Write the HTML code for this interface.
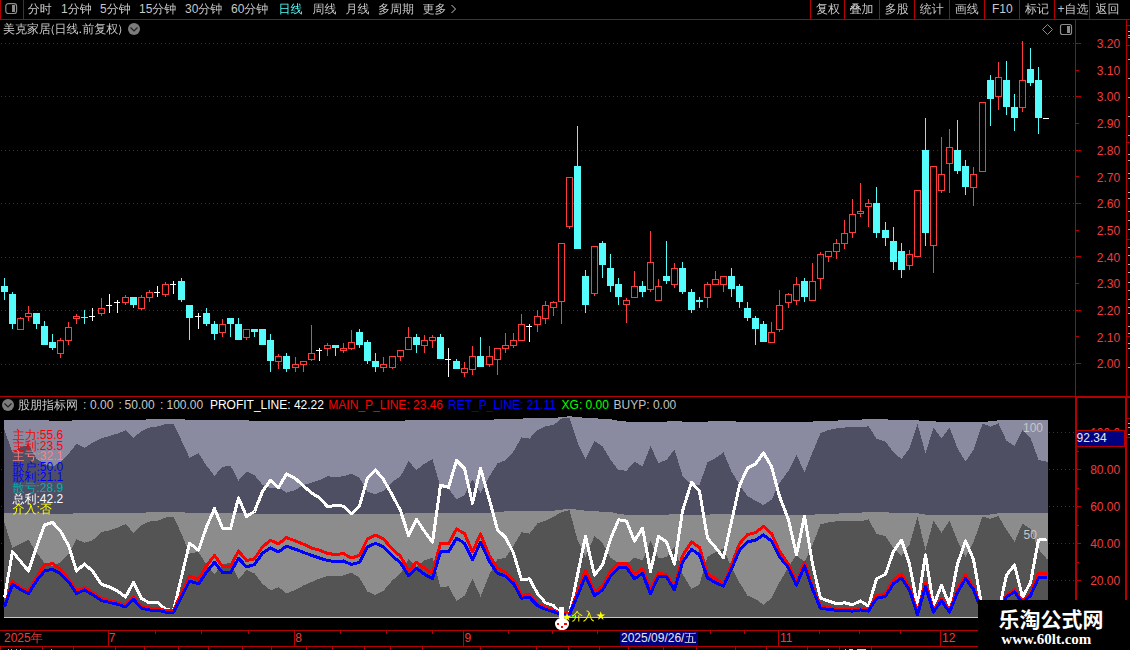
<!DOCTYPE html>
<html><head><meta charset="utf-8"><style>
html,body{margin:0;padding:0;background:#000;}
body{width:1130px;height:650px;overflow:hidden;position:relative;font-family:"Liberation Sans","Noto Sans CJK SC",sans-serif;font-size:12px;color:#C8C8C8;}
.t{position:absolute;white-space:nowrap;line-height:12px;}
</style></head><body>
<svg width="1130" height="650" viewBox="0 0 1130 650" style="position:absolute;left:0;top:0">
<g shape-rendering="crispEdges">
<line x1="1" y1="43.5" x2="1075" y2="43.5" stroke="#B40000" stroke-width="1" stroke-dasharray="1 3"/><line x1="1" y1="96.5" x2="1075" y2="96.5" stroke="#B40000" stroke-width="1" stroke-dasharray="1 3"/><line x1="1" y1="150.5" x2="1075" y2="150.5" stroke="#B40000" stroke-width="1" stroke-dasharray="1 3"/><line x1="1" y1="203.5" x2="1075" y2="203.5" stroke="#B40000" stroke-width="1" stroke-dasharray="1 3"/><line x1="1" y1="257.5" x2="1075" y2="257.5" stroke="#B40000" stroke-width="1" stroke-dasharray="1 3"/><line x1="1" y1="310.5" x2="1075" y2="310.5" stroke="#B40000" stroke-width="1" stroke-dasharray="1 3"/><line x1="1" y1="364.5" x2="1075" y2="364.5" stroke="#B40000" stroke-width="1" stroke-dasharray="1 3"/><line x1="1" y1="432.5" x2="1075" y2="432.5" stroke="#B40000" stroke-width="1" stroke-dasharray="1 3"/><line x1="1" y1="469.5" x2="1075" y2="469.5" stroke="#B40000" stroke-width="1" stroke-dasharray="1 3"/><line x1="1" y1="506.5" x2="1075" y2="506.5" stroke="#B40000" stroke-width="1" stroke-dasharray="1 3"/><line x1="1" y1="543.5" x2="1075" y2="543.5" stroke="#B40000" stroke-width="1" stroke-dasharray="1 3"/><line x1="1" y1="580.5" x2="1075" y2="580.5" stroke="#B40000" stroke-width="1" stroke-dasharray="1 3"/>
<polygon points="4.0,617.0 4.0,420.2 4.5,420.2 12.5,420.2 20.5,420.2 28.5,420.2 36.5,420.2 44.5,420.2 52.5,420.8 60.5,420.8 68.5,420.8 76.5,420.2 84.5,420.2 92.5,420.2 101.5,420.2 109.5,420.2 117.5,420.2 125.5,420.2 133.5,420.2 141.5,420.2 149.5,419.0 157.5,419.0 165.5,419.0 173.5,419.0 181.5,419.0 189.5,420.3 198.5,420.3 206.5,420.3 214.5,420.3 222.5,420.3 230.5,420.3 238.5,420.3 246.5,420.3 254.5,421.0 262.5,421.0 270.5,421.0 278.5,421.0 286.5,421.0 295.5,421.0 303.5,421.0 311.5,421.0 319.5,421.0 327.5,420.6 335.5,420.6 343.5,420.6 351.5,420.6 359.5,420.6 367.5,421.0 375.5,421.0 383.5,421.0 392.5,421.0 400.5,421.0 408.5,420.1 416.5,420.1 424.5,420.1 432.5,420.1 440.5,420.1 448.5,420.1 456.5,420.1 464.5,420.1 472.5,420.1 480.5,420.1 489.5,420.1 497.5,419.1 505.5,418.6 513.5,418.6 521.5,418.6 529.5,418.0 537.5,418.0 545.5,418.0 553.5,418.0 561.5,417.0 569.5,416.3 577.5,417.0 585.5,418.0 594.5,418.0 602.5,419.1 610.5,419.1 618.5,420.8 626.5,421.6 634.5,421.6 642.5,421.6 650.5,421.6 658.5,421.6 666.5,421.6 674.5,420.8 682.5,421.6 691.5,421.6 699.5,421.6 707.5,421.6 715.5,420.8 723.5,420.8 731.5,420.8 739.5,422.0 747.5,422.0 755.5,422.0 763.5,422.0 771.5,422.0 779.5,421.6 788.5,421.6 796.5,421.6 804.5,421.6 812.5,421.6 820.5,420.8 828.5,420.8 836.5,420.8 844.5,419.6 852.5,419.6 860.5,419.6 868.5,419.1 876.5,419.1 885.5,419.1 893.5,420.3 901.5,420.3 909.5,420.3 917.5,420.3 925.5,421.3 933.5,421.3 941.5,422.0 949.5,422.0 957.5,422.0 965.5,422.0 973.5,422.0 982.5,422.0 990.5,421.3 998.5,420.3 1006.5,420.3 1014.5,420.3 1022.5,420.3 1030.5,420.3 1038.5,420.3 1046.5,420.3 1048.0,420.3 1048.0,617.0" fill="#8A8AA0"/><polygon points="4.0,560.0 4.0,430.4 4.5,430.4 12.5,452.5 20.5,447.0 28.5,445.0 36.5,458.6 44.5,464.0 52.5,466.7 60.5,462.0 68.5,453.8 76.5,444.0 84.5,448.0 92.5,442.8 101.5,438.4 109.5,436.0 117.5,433.6 125.5,430.4 133.5,437.6 141.5,431.2 149.5,427.6 157.5,426.5 165.5,424.2 173.5,424.2 181.5,440.5 189.5,457.7 198.5,453.2 206.5,465.7 214.5,475.8 222.5,466.8 230.5,465.7 238.5,480.6 246.5,471.5 254.5,475.2 262.5,484.8 270.5,488.3 278.5,487.5 286.5,492.7 295.5,489.9 303.5,485.0 311.5,482.7 319.5,480.0 327.5,476.3 335.5,477.1 343.5,476.3 351.5,473.6 359.5,477.9 367.5,491.5 375.5,494.3 383.5,490.7 392.5,481.9 400.5,476.3 408.5,461.2 416.5,470.0 424.5,463.6 432.5,459.3 440.5,487.5 448.5,488.6 456.5,499.4 464.5,495.4 472.5,479.5 480.5,493.0 489.5,476.3 497.5,463.5 505.5,460.2 513.5,451.5 521.5,437.4 529.5,438.6 537.5,430.0 545.5,426.1 553.5,425.0 561.5,418.6 569.5,417.5 577.5,442.4 585.5,459.5 594.5,441.2 602.5,446.2 610.5,459.9 618.5,470.2 626.5,470.7 634.5,461.5 642.5,466.5 650.5,446.2 658.5,462.9 666.5,459.9 674.5,449.6 682.5,475.6 691.5,484.8 699.5,484.8 707.5,462.4 715.5,458.2 723.5,452.4 731.5,471.5 739.5,484.8 747.5,496.4 755.5,500.6 763.5,505.1 771.5,499.7 779.5,483.1 788.5,470.7 796.5,454.9 804.5,472.3 812.5,452.4 820.5,433.3 828.5,430.0 836.5,428.3 844.5,427.5 852.5,427.0 860.5,427.5 868.5,426.3 876.5,438.6 885.5,441.6 893.5,452.4 901.5,459.0 909.5,448.2 917.5,424.1 925.5,453.5 933.5,427.5 941.5,438.3 949.5,427.5 957.5,448.2 965.5,461.5 973.5,449.9 982.5,423.6 990.5,426.6 998.5,423.3 1006.5,440.7 1014.5,446.0 1022.5,430.0 1030.5,437.7 1038.5,460.0 1046.5,461.6 1048.0,461.6 1048.0,560.0" fill="#4F4F64"/><polygon points="4.0,617.0 4.0,513.2 4.5,513.2 12.5,513.2 20.5,513.2 28.5,513.2 36.5,513.2 44.5,513.2 52.5,513.9 60.5,513.9 68.5,513.9 76.5,513.2 84.5,513.2 92.5,513.2 101.5,513.2 109.5,513.2 117.5,513.2 125.5,513.2 133.5,513.2 141.5,513.2 149.5,511.9 157.5,511.9 165.5,511.9 173.5,511.9 181.5,511.9 189.5,513.3 198.5,513.3 206.5,513.3 214.5,513.3 222.5,513.3 230.5,513.3 238.5,513.3 246.5,513.3 254.5,514.1 262.5,514.1 270.5,514.1 278.5,514.1 286.5,514.1 295.5,514.1 303.5,514.1 311.5,514.1 319.5,514.1 327.5,513.7 335.5,513.7 343.5,513.7 351.5,513.7 359.5,513.7 367.5,514.1 375.5,514.1 383.5,514.1 392.5,514.1 400.5,514.1 408.5,513.1 416.5,513.1 424.5,513.1 432.5,513.1 440.5,513.1 448.5,513.1 456.5,513.1 464.5,513.1 472.5,513.1 480.5,513.1 489.5,513.1 497.5,512.0 505.5,511.4 513.5,511.4 521.5,511.4 529.5,510.8 537.5,510.8 545.5,510.8 553.5,510.8 561.5,509.6 569.5,508.9 577.5,509.6 585.5,510.8 594.5,510.8 602.5,512.0 610.5,512.0 618.5,513.9 626.5,514.8 634.5,514.8 642.5,514.8 650.5,514.8 658.5,514.8 666.5,514.8 674.5,513.9 682.5,514.8 691.5,514.8 699.5,514.8 707.5,514.8 715.5,513.9 723.5,513.9 731.5,513.9 739.5,515.2 747.5,515.2 755.5,515.2 763.5,515.2 771.5,515.2 779.5,514.8 788.5,514.8 796.5,514.8 804.5,514.8 812.5,514.8 820.5,513.9 828.5,513.9 836.5,513.9 844.5,512.6 852.5,512.6 860.5,512.6 868.5,512.0 876.5,512.0 885.5,512.0 893.5,513.3 901.5,513.3 909.5,513.3 917.5,513.3 925.5,514.5 933.5,514.5 941.5,515.2 949.5,515.2 957.5,515.2 965.5,515.2 973.5,515.2 982.5,515.2 990.5,514.5 998.5,513.3 1006.5,513.3 1014.5,513.3 1022.5,513.3 1030.5,513.3 1038.5,513.3 1046.5,513.3 1048.0,513.3 1048.0,617.0" fill="#8C8C8C"/><polygon points="4.0,617.0 4.0,523.3 4.5,523.3 12.5,548.0 20.5,543.6 28.5,539.7 36.5,552.5 44.5,563.0 52.5,566.3 60.5,562.2 68.5,554.2 76.5,539.2 84.5,542.7 92.5,540.4 101.5,532.1 109.5,530.4 117.5,527.7 125.5,524.2 133.5,532.7 141.5,525.0 149.5,521.5 157.5,520.9 165.5,517.5 173.5,516.6 181.5,533.8 189.5,553.6 198.5,551.9 206.5,564.8 214.5,574.3 222.5,564.0 230.5,563.1 238.5,579.5 246.5,570.0 254.5,573.4 262.5,583.8 270.5,590.3 278.5,587.2 286.5,593.3 295.5,589.8 303.5,585.5 311.5,582.0 319.5,578.6 327.5,576.0 335.5,576.0 343.5,575.5 351.5,572.6 359.5,577.8 367.5,591.5 375.5,595.0 383.5,590.7 392.5,580.3 400.5,573.4 408.5,559.3 416.5,566.6 424.5,560.5 432.5,557.6 440.5,587.2 448.5,586.4 456.5,601.0 464.5,595.8 472.5,579.0 480.5,596.7 489.5,574.3 497.5,559.5 505.5,557.6 513.5,545.6 521.5,532.3 529.5,533.6 537.5,523.5 545.5,520.7 553.5,517.0 561.5,512.0 569.5,510.2 577.5,540.1 585.5,556.7 594.5,536.0 602.5,542.8 610.5,557.6 618.5,563.2 626.5,564.0 634.5,557.6 642.5,560.4 650.5,541.0 658.5,558.5 666.5,557.0 674.5,546.5 682.5,574.2 691.5,589.0 699.5,584.4 707.5,556.7 715.5,552.1 723.5,548.4 731.5,567.8 739.5,582.5 747.5,595.5 755.5,599.1 763.5,604.7 771.5,598.2 779.5,582.5 788.5,566.8 796.5,554.8 804.5,562.2 812.5,544.7 820.5,524.4 828.5,522.5 836.5,521.2 844.5,520.7 852.5,520.7 860.5,521.2 868.5,519.4 876.5,533.6 885.5,536.4 893.5,548.4 901.5,555.8 909.5,544.7 917.5,517.0 925.5,550.2 933.5,520.7 941.5,532.7 949.5,520.5 957.5,541.0 965.5,557.0 973.5,542.0 982.5,516.6 990.5,518.8 998.5,516.1 1006.5,530.0 1014.5,541.9 1022.5,523.5 1030.5,529.0 1038.5,549.3 1046.5,558.5 1048.0,558.5 1048.0,617.0" fill="#545454"/><rect x="4" y="617" width="1044" height="1" fill="#C8C8C8"/>
</g>
<g shape-rendering="crispEdges"><polyline points="4.5,597.6 12.5,551.6 20.5,561.3 28.5,571.0 36.5,547.2 44.5,525.0 52.5,522.4 60.5,531.2 68.5,545.4 76.5,571.0 84.5,564.0 92.5,571.0 101.5,584.3 109.5,587.0 117.5,591.0 125.5,597.0 133.5,582.6 141.5,598.5 149.5,603.0 157.5,602.4 165.5,609.3 173.5,610.5 181.5,576.9 189.5,543.3 198.5,550.2 206.5,527.0 214.5,508.5 222.5,528.3 230.5,529.0 238.5,497.8 246.5,516.5 254.5,511.5 262.5,491.5 270.5,480.3 278.5,487.5 286.5,473.9 295.5,478.7 303.5,485.9 311.5,493.0 319.5,497.8 327.5,506.6 335.5,505.5 343.5,506.1 351.5,513.8 359.5,505.8 367.5,477.9 375.5,470.0 383.5,479.5 392.5,495.4 400.5,510.6 408.5,535.6 416.5,519.2 424.5,531.3 432.5,542.4 440.5,485.1 448.5,487.5 456.5,460.4 464.5,468.4 472.5,503.4 480.5,468.4 489.5,500.0 497.5,529.9 505.5,537.3 513.5,553.0 521.5,579.8 529.5,578.8 537.5,593.6 545.5,602.8 553.5,605.6 561.5,613.9 569.5,613.9 577.5,575.0 585.5,536.4 594.5,575.2 602.5,565.0 610.5,539.2 618.5,519.8 626.5,521.2 634.5,541.0 642.5,528.1 650.5,571.5 658.5,536.4 666.5,541.9 674.5,564.1 682.5,511.0 691.5,482.3 699.5,491.4 707.5,538.2 715.5,547.5 723.5,557.6 731.5,521.6 739.5,485.6 747.5,468.2 755.5,464.0 763.5,452.9 771.5,466.5 779.5,496.4 788.5,519.8 796.5,554.8 804.5,516.1 812.5,564.1 820.5,598.2 828.5,601.0 836.5,603.7 844.5,602.8 852.5,604.7 860.5,601.0 868.5,606.2 876.5,578.8 885.5,574.2 893.5,551.2 901.5,540.1 909.5,564.1 917.5,605.6 925.5,554.8 933.5,605.6 941.5,585.3 949.5,604.7 957.5,564.0 965.5,541.0 973.5,559.5 982.5,610.0 990.5,612.0 998.5,612.0 1006.5,575.2 1014.5,565.0 1022.5,597.3 1030.5,582.5 1038.5,540.1 1046.5,539.2" fill="none" stroke="#FFFFFF" stroke-width="3" stroke-linejoin="round"/><polyline points="4.5,606.5 12.5,581.0 20.5,588.0 28.5,591.4 36.5,577.3 44.5,565.2 52.5,563.5 60.5,569.3 68.5,579.0 76.5,591.0 84.5,587.5 92.5,592.3 101.5,598.5 109.5,600.6 117.5,602.4 125.5,605.6 133.5,597.0 141.5,606.5 149.5,608.2 157.5,608.0 165.5,610.5 173.5,611.0 181.5,592.4 189.5,576.0 198.5,579.5 206.5,565.7 214.5,555.4 222.5,566.6 230.5,566.6 238.5,551.0 246.5,560.5 254.5,558.8 262.5,546.8 270.5,540.4 278.5,543.8 286.5,537.6 295.5,541.0 303.5,544.2 311.5,548.0 319.5,550.2 327.5,553.5 335.5,554.5 343.5,553.6 351.5,558.0 359.5,555.4 367.5,539.0 375.5,535.2 383.5,539.0 392.5,549.3 400.5,556.2 408.5,570.9 416.5,562.3 424.5,568.3 432.5,573.4 440.5,543.3 448.5,543.8 456.5,529.0 464.5,533.5 472.5,551.9 480.5,533.8 489.5,556.2 497.5,568.0 505.5,572.4 513.5,579.8 521.5,595.5 529.5,594.5 537.5,603.8 545.5,607.5 553.5,610.2 561.5,613.9 569.5,613.9 577.5,591.8 585.5,570.5 594.5,591.8 602.5,586.2 610.5,571.5 618.5,563.2 626.5,563.2 634.5,574.2 642.5,568.7 650.5,589.9 658.5,572.9 666.5,575.0 674.5,587.1 682.5,555.8 691.5,541.9 699.5,547.5 707.5,574.2 715.5,578.8 723.5,584.4 731.5,565.0 739.5,543.8 747.5,534.5 755.5,532.7 763.5,526.2 771.5,533.6 779.5,551.2 788.5,564.1 796.5,582.5 804.5,562.2 812.5,587.1 820.5,606.2 828.5,607.5 836.5,609.0 844.5,609.3 852.5,609.9 860.5,608.4 868.5,609.9 876.5,595.5 885.5,593.6 893.5,579.8 901.5,574.2 909.5,587.1 917.5,612.1 925.5,582.5 933.5,610.2 941.5,598.2 949.5,610.2 957.5,589.5 965.5,574.8 973.5,586.7 982.5,612.0 990.5,613.0 998.5,613.0 1006.5,595.5 1014.5,589.5 1022.5,601.0 1030.5,592.7 1038.5,573.3 1046.5,573.3" fill="none" stroke="#FF0000" stroke-width="3" stroke-linejoin="round"/><polyline points="4.5,607.0 12.5,584.3 20.5,589.6 28.5,593.5 36.5,580.8 44.5,571.0 52.5,569.3 60.5,573.7 68.5,581.7 76.5,593.5 84.5,590.0 92.5,594.6 101.5,600.6 109.5,602.4 117.5,604.2 125.5,607.0 133.5,599.4 141.5,608.2 149.5,610.0 157.5,610.0 165.5,612.2 173.5,612.2 181.5,596.7 189.5,581.2 198.5,583.8 206.5,572.1 214.5,562.3 222.5,572.6 230.5,572.6 238.5,558.3 246.5,566.9 254.5,564.5 262.5,553.1 270.5,548.0 278.5,551.9 286.5,546.2 295.5,549.3 303.5,552.4 311.5,555.4 319.5,558.0 327.5,560.5 335.5,561.7 343.5,561.0 351.5,564.5 359.5,562.3 367.5,546.8 375.5,543.3 383.5,546.8 392.5,556.2 400.5,562.8 408.5,575.5 416.5,568.3 424.5,574.3 432.5,578.6 440.5,551.9 448.5,551.9 456.5,538.1 464.5,543.3 472.5,559.7 480.5,542.4 489.5,561.4 497.5,573.3 505.5,576.1 513.5,583.5 521.5,598.2 529.5,597.3 537.5,605.6 545.5,609.3 553.5,611.7 561.5,614.8 569.5,614.8 577.5,595.5 585.5,576.1 594.5,595.5 602.5,589.9 610.5,576.1 618.5,567.8 626.5,567.8 634.5,578.8 642.5,573.3 650.5,593.6 658.5,576.1 666.5,577.0 674.5,589.9 682.5,562.2 691.5,549.3 699.5,554.8 707.5,577.9 715.5,582.5 723.5,586.2 731.5,568.7 739.5,550.2 747.5,541.9 755.5,540.1 763.5,534.9 771.5,541.0 779.5,556.7 788.5,567.8 796.5,585.3 804.5,565.9 812.5,589.0 820.5,608.4 828.5,609.3 836.5,610.3 844.5,610.6 852.5,611.1 860.5,609.9 868.5,611.1 876.5,598.2 885.5,596.4 893.5,583.5 901.5,577.9 909.5,589.9 917.5,614.8 925.5,586.2 933.5,612.1 941.5,600.6 949.5,612.1 957.5,592.3 965.5,578.5 973.5,589.5 982.5,613.0 990.5,614.0 998.5,614.0 1006.5,596.8 1014.5,591.8 1022.5,603.0 1030.5,595.5 1038.5,577.9 1046.5,577.9" fill="none" stroke="#0000FF" stroke-width="3" stroke-linejoin="round"/></g>
<g shape-rendering="crispEdges">
<rect x="1" y="286" width="7" height="6" fill="#54FCFC"/><rect x="4" y="278" width="1" height="22" fill="#54FCFC"/><rect x="9" y="294" width="7" height="30" fill="#54FCFC"/><rect x="12" y="292" width="1" height="37" fill="#54FCFC"/><rect x="17.5" y="318.5" width="6" height="11" fill="none" stroke="#FF3C3C" stroke-width="1"/><rect x="20" y="317" width="1" height="1" fill="#FF3C3C"/><rect x="25.5" y="313.5" width="6" height="3" fill="none" stroke="#FF3C3C" stroke-width="1"/><rect x="28" y="306" width="1" height="7" fill="#FF3C3C"/><rect x="28" y="317" width="1" height="4" fill="#FF3C3C"/><rect x="33" y="313" width="7" height="11" fill="#54FCFC"/><rect x="36" y="313" width="1" height="16" fill="#54FCFC"/><rect x="41" y="326" width="7" height="19" fill="#54FCFC"/><rect x="44" y="321" width="1" height="24" fill="#54FCFC"/><rect x="49" y="342" width="7" height="6" fill="#54FCFC"/><rect x="52" y="334" width="1" height="16" fill="#54FCFC"/><rect x="57.5" y="340.5" width="6" height="13" fill="none" stroke="#FF3C3C" stroke-width="1"/><rect x="60" y="338" width="1" height="2" fill="#FF3C3C"/><rect x="60" y="354" width="1" height="4" fill="#FF3C3C"/><rect x="65.5" y="327.5" width="6" height="13" fill="none" stroke="#FF3C3C" stroke-width="1"/><rect x="68" y="322" width="1" height="5" fill="#FF3C3C"/><rect x="68" y="341" width="1" height="4" fill="#FF3C3C"/><rect x="73.5" y="316.5" width="6" height="2" fill="none" stroke="#FF3C3C" stroke-width="1"/><rect x="76" y="314" width="1" height="2" fill="#FF3C3C"/><rect x="76" y="319" width="1" height="5" fill="#FF3C3C"/><rect x="81" y="317" width="7" height="1" fill="#54FCFC"/><rect x="84" y="310" width="1" height="14" fill="#54FCFC"/><rect x="89" y="316" width="6" height="1" fill="#FFFFFF"/><rect x="92" y="308" width="1" height="13" fill="#FFFFFF"/><rect x="98.5" y="308.5" width="6" height="5" fill="none" stroke="#FF3C3C" stroke-width="1"/><rect x="101" y="298" width="1" height="10" fill="#FF3C3C"/><rect x="101" y="314" width="1" height="2" fill="#FF3C3C"/><rect x="106" y="305" width="6" height="1" fill="#FFFFFF"/><rect x="109" y="294" width="1" height="19" fill="#FFFFFF"/><rect x="114" y="302" width="6" height="1" fill="#FFFFFF"/><rect x="117" y="300" width="1" height="13" fill="#FFFFFF"/><rect x="122.5" y="297.5" width="6" height="5" fill="none" stroke="#FF3C3C" stroke-width="1"/><rect x="125" y="295" width="1" height="2" fill="#FF3C3C"/><rect x="125" y="303" width="1" height="2" fill="#FF3C3C"/><rect x="130" y="297" width="7" height="8" fill="#54FCFC"/><rect x="133" y="297" width="1" height="11" fill="#54FCFC"/><rect x="138.5" y="297.5" width="6" height="11" fill="none" stroke="#FF3C3C" stroke-width="1"/><rect x="141" y="295" width="1" height="2" fill="#FF3C3C"/><rect x="141" y="309" width="1" height="1" fill="#FF3C3C"/><rect x="146.5" y="292.5" width="6" height="5" fill="none" stroke="#FF3C3C" stroke-width="1"/><rect x="149" y="290" width="1" height="2" fill="#FF3C3C"/><rect x="149" y="298" width="1" height="4" fill="#FF3C3C"/><rect x="154" y="292" width="6" height="1" fill="#FFFFFF"/><rect x="157" y="286" width="1" height="11" fill="#FFFFFF"/><rect x="162.5" y="284.5" width="6" height="10" fill="none" stroke="#FF3C3C" stroke-width="1"/><rect x="165" y="282" width="1" height="2" fill="#FF3C3C"/><rect x="165" y="295" width="1" height="2" fill="#FF3C3C"/><rect x="170" y="284" width="6" height="1" fill="#FFFFFF"/><rect x="173" y="281" width="1" height="13" fill="#FFFFFF"/><rect x="178" y="281" width="7" height="19" fill="#54FCFC"/><rect x="181" y="278" width="1" height="24" fill="#54FCFC"/><rect x="186" y="305" width="7" height="13" fill="#54FCFC"/><rect x="189" y="305" width="1" height="35" fill="#54FCFC"/><rect x="195" y="316" width="6" height="1" fill="#FFFFFF"/><rect x="198" y="313" width="1" height="16" fill="#FFFFFF"/><rect x="203" y="313" width="7" height="11" fill="#54FCFC"/><rect x="206" y="308" width="1" height="18" fill="#54FCFC"/><rect x="211" y="324" width="7" height="10" fill="#54FCFC"/><rect x="214" y="321" width="1" height="19" fill="#54FCFC"/><rect x="219.5" y="324.5" width="6" height="8" fill="none" stroke="#FF3C3C" stroke-width="1"/><rect x="222" y="319" width="1" height="5" fill="#FF3C3C"/><rect x="222" y="333" width="1" height="4" fill="#FF3C3C"/><rect x="227" y="318" width="7" height="6" fill="#54FCFC"/><rect x="230" y="318" width="1" height="19" fill="#54FCFC"/><rect x="235" y="324" width="7" height="16" fill="#54FCFC"/><rect x="238" y="318" width="1" height="22" fill="#54FCFC"/><rect x="243.5" y="329.5" width="6" height="8" fill="none" stroke="#FF3C3C" stroke-width="1"/><rect x="246" y="338" width="1" height="2" fill="#FF3C3C"/><rect x="251" y="329" width="7" height="3" fill="#54FCFC"/><rect x="254" y="329" width="1" height="8" fill="#54FCFC"/><rect x="259" y="329" width="7" height="16" fill="#54FCFC"/><rect x="262" y="329" width="1" height="16" fill="#54FCFC"/><rect x="267" y="340" width="7" height="21" fill="#54FCFC"/><rect x="270" y="334" width="1" height="38" fill="#54FCFC"/><rect x="275.5" y="356.5" width="6" height="5" fill="none" stroke="#FF3C3C" stroke-width="1"/><rect x="278" y="354" width="1" height="2" fill="#FF3C3C"/><rect x="278" y="362" width="1" height="7" fill="#FF3C3C"/><rect x="283" y="356" width="7" height="13" fill="#54FCFC"/><rect x="286" y="353" width="1" height="19" fill="#54FCFC"/><rect x="292.5" y="364.5" width="6" height="3" fill="none" stroke="#FF3C3C" stroke-width="1"/><rect x="295" y="357" width="1" height="7" fill="#FF3C3C"/><rect x="295" y="368" width="1" height="4" fill="#FF3C3C"/><rect x="300.5" y="361.5" width="6" height="3" fill="none" stroke="#FF3C3C" stroke-width="1"/><rect x="303" y="365" width="1" height="7" fill="#FF3C3C"/><rect x="308.5" y="353.5" width="6" height="6" fill="none" stroke="#FF3C3C" stroke-width="1"/><rect x="311" y="325" width="1" height="28" fill="#FF3C3C"/><rect x="311" y="360" width="1" height="1" fill="#FF3C3C"/><rect x="316" y="350" width="6" height="1" fill="#FFFFFF"/><rect x="319" y="348" width="1" height="13" fill="#FFFFFF"/><rect x="324.5" y="345.5" width="6" height="3" fill="none" stroke="#FF3C3C" stroke-width="1"/><rect x="327" y="343" width="1" height="2" fill="#FF3C3C"/><rect x="327" y="349" width="1" height="7" fill="#FF3C3C"/><rect x="332" y="345" width="7" height="3" fill="#54FCFC"/><rect x="335" y="345" width="1" height="11" fill="#54FCFC"/><rect x="340.5" y="348.5" width="6" height="2" fill="none" stroke="#FF3C3C" stroke-width="1"/><rect x="343" y="343" width="1" height="5" fill="#FF3C3C"/><rect x="343" y="351" width="1" height="2" fill="#FF3C3C"/><rect x="348.5" y="342.5" width="6" height="6" fill="none" stroke="#FF3C3C" stroke-width="1"/><rect x="351" y="330" width="1" height="12" fill="#FF3C3C"/><rect x="351" y="349" width="1" height="1" fill="#FF3C3C"/><rect x="356" y="332" width="7" height="13" fill="#54FCFC"/><rect x="359" y="329" width="1" height="19" fill="#54FCFC"/><rect x="364" y="342" width="7" height="19" fill="#54FCFC"/><rect x="367" y="340" width="1" height="24" fill="#54FCFC"/><rect x="372" y="361" width="7" height="6" fill="#54FCFC"/><rect x="375" y="353" width="1" height="19" fill="#54FCFC"/><rect x="380.5" y="364.5" width="6" height="3" fill="none" stroke="#FF3C3C" stroke-width="1"/><rect x="383" y="357" width="1" height="7" fill="#FF3C3C"/><rect x="383" y="368" width="1" height="4" fill="#FF3C3C"/><rect x="389.5" y="356.5" width="6" height="11" fill="none" stroke="#FF3C3C" stroke-width="1"/><rect x="392" y="368" width="1" height="1" fill="#FF3C3C"/><rect x="397.5" y="350.5" width="6" height="6" fill="none" stroke="#FF3C3C" stroke-width="1"/><rect x="400" y="357" width="1" height="4" fill="#FF3C3C"/><rect x="405.5" y="337.5" width="6" height="12" fill="none" stroke="#FF3C3C" stroke-width="1"/><rect x="408" y="327" width="1" height="10" fill="#FF3C3C"/><rect x="413" y="337" width="7" height="8" fill="#54FCFC"/><rect x="416" y="334" width="1" height="19" fill="#54FCFC"/><rect x="421.5" y="340.5" width="6" height="5" fill="none" stroke="#FF3C3C" stroke-width="1"/><rect x="424" y="335" width="1" height="5" fill="#FF3C3C"/><rect x="424" y="346" width="1" height="7" fill="#FF3C3C"/><rect x="429.5" y="337.5" width="6" height="3" fill="none" stroke="#FF3C3C" stroke-width="1"/><rect x="432" y="335" width="1" height="2" fill="#FF3C3C"/><rect x="432" y="341" width="1" height="7" fill="#FF3C3C"/><rect x="437" y="337" width="7" height="22" fill="#54FCFC"/><rect x="440" y="334" width="1" height="25" fill="#54FCFC"/><rect x="445" y="359" width="6" height="1" fill="#FFFFFF"/><rect x="448" y="348" width="1" height="29" fill="#FFFFFF"/><rect x="453" y="361" width="7" height="8" fill="#54FCFC"/><rect x="456" y="359" width="1" height="10" fill="#54FCFC"/><rect x="461.5" y="368.5" width="6" height="4" fill="none" stroke="#FF3C3C" stroke-width="1"/><rect x="464" y="362" width="1" height="6" fill="#FF3C3C"/><rect x="464" y="373" width="1" height="4" fill="#FF3C3C"/><rect x="469.5" y="356.5" width="6" height="13" fill="none" stroke="#FF3C3C" stroke-width="1"/><rect x="472" y="346" width="1" height="10" fill="#FF3C3C"/><rect x="472" y="370" width="1" height="5" fill="#FF3C3C"/><rect x="477" y="356" width="7" height="11" fill="#54FCFC"/><rect x="480" y="337" width="1" height="30" fill="#54FCFC"/><rect x="486.5" y="356.5" width="6" height="8" fill="none" stroke="#FF3C3C" stroke-width="1"/><rect x="489" y="346" width="1" height="10" fill="#FF3C3C"/><rect x="489" y="365" width="1" height="2" fill="#FF3C3C"/><rect x="494.5" y="348.5" width="6" height="11" fill="none" stroke="#FF3C3C" stroke-width="1"/><rect x="497" y="360" width="1" height="15" fill="#FF3C3C"/><rect x="502.5" y="345.5" width="6" height="3" fill="none" stroke="#FF3C3C" stroke-width="1"/><rect x="505" y="333" width="1" height="12" fill="#FF3C3C"/><rect x="505" y="349" width="1" height="4" fill="#FF3C3C"/><rect x="510.5" y="340.5" width="6" height="5" fill="none" stroke="#FF3C3C" stroke-width="1"/><rect x="513" y="333" width="1" height="7" fill="#FF3C3C"/><rect x="513" y="346" width="1" height="2" fill="#FF3C3C"/><rect x="518.5" y="324.5" width="6" height="16" fill="none" stroke="#FF3C3C" stroke-width="1"/><rect x="521" y="314" width="1" height="10" fill="#FF3C3C"/><rect x="526" y="326" width="6" height="1" fill="#FFFFFF"/><rect x="529" y="324" width="1" height="18" fill="#FFFFFF"/><rect x="534.5" y="316.5" width="6" height="8" fill="none" stroke="#FF3C3C" stroke-width="1"/><rect x="537" y="310" width="1" height="6" fill="#FF3C3C"/><rect x="537" y="325" width="1" height="7" fill="#FF3C3C"/><rect x="542.5" y="305.5" width="6" height="13" fill="none" stroke="#FF3C3C" stroke-width="1"/><rect x="545" y="301" width="1" height="4" fill="#FF3C3C"/><rect x="545" y="319" width="1" height="5" fill="#FF3C3C"/><rect x="550.5" y="302.5" width="6" height="5" fill="none" stroke="#FF3C3C" stroke-width="1"/><rect x="553" y="301" width="1" height="1" fill="#FF3C3C"/><rect x="553" y="308" width="1" height="8" fill="#FF3C3C"/><rect x="558.5" y="243.5" width="6" height="58" fill="none" stroke="#FF3C3C" stroke-width="1"/><rect x="561" y="302" width="1" height="22" fill="#FF3C3C"/><rect x="566.5" y="177.5" width="6" height="49" fill="none" stroke="#FF3C3C" stroke-width="1"/><rect x="569" y="227" width="1" height="2" fill="#FF3C3C"/><rect x="574" y="166" width="7" height="83" fill="#54FCFC"/><rect x="577" y="126" width="1" height="123" fill="#54FCFC"/><rect x="582" y="276" width="7" height="29" fill="#54FCFC"/><rect x="585" y="270" width="1" height="43" fill="#54FCFC"/><rect x="591.5" y="246.5" width="6" height="47" fill="none" stroke="#FF3C3C" stroke-width="1"/><rect x="594" y="294" width="1" height="2" fill="#FF3C3C"/><rect x="599" y="243" width="7" height="22" fill="#54FCFC"/><rect x="602" y="241" width="1" height="37" fill="#54FCFC"/><rect x="607" y="268" width="7" height="18" fill="#54FCFC"/><rect x="610" y="254" width="1" height="38" fill="#54FCFC"/><rect x="615" y="284" width="7" height="13" fill="#54FCFC"/><rect x="618" y="278" width="1" height="27" fill="#54FCFC"/><rect x="623.5" y="300.5" width="6" height="4" fill="none" stroke="#FF3C3C" stroke-width="1"/><rect x="626" y="298" width="1" height="2" fill="#FF3C3C"/><rect x="626" y="305" width="1" height="18" fill="#FF3C3C"/><rect x="631.5" y="286.5" width="6" height="11" fill="none" stroke="#FF3C3C" stroke-width="1"/><rect x="634" y="271" width="1" height="15" fill="#FF3C3C"/><rect x="639" y="286" width="7" height="6" fill="#54FCFC"/><rect x="642" y="281" width="1" height="16" fill="#54FCFC"/><rect x="647.5" y="262.5" width="6" height="27" fill="none" stroke="#FF3C3C" stroke-width="1"/><rect x="650" y="231" width="1" height="31" fill="#FF3C3C"/><rect x="650" y="290" width="1" height="2" fill="#FF3C3C"/><rect x="655.5" y="286.5" width="6" height="14" fill="none" stroke="#FF3C3C" stroke-width="1"/><rect x="658" y="279" width="1" height="7" fill="#FF3C3C"/><rect x="663" y="276" width="7" height="5" fill="#54FCFC"/><rect x="666" y="241" width="1" height="43" fill="#54FCFC"/><rect x="671.5" y="268.5" width="6" height="16" fill="none" stroke="#FF3C3C" stroke-width="1"/><rect x="674" y="263" width="1" height="5" fill="#FF3C3C"/><rect x="674" y="285" width="1" height="3" fill="#FF3C3C"/><rect x="679" y="268" width="7" height="24" fill="#54FCFC"/><rect x="682" y="262" width="1" height="32" fill="#54FCFC"/><rect x="688" y="292" width="7" height="18" fill="#54FCFC"/><rect x="691" y="289" width="1" height="24" fill="#54FCFC"/><rect x="696" y="300" width="7" height="2" fill="#54FCFC"/><rect x="699" y="297" width="1" height="11" fill="#54FCFC"/><rect x="704.5" y="284.5" width="6" height="13" fill="none" stroke="#FF3C3C" stroke-width="1"/><rect x="707" y="282" width="1" height="2" fill="#FF3C3C"/><rect x="707" y="298" width="1" height="10" fill="#FF3C3C"/><rect x="712.5" y="279.5" width="6" height="5" fill="none" stroke="#FF3C3C" stroke-width="1"/><rect x="715" y="271" width="1" height="8" fill="#FF3C3C"/><rect x="720.5" y="276.5" width="6" height="8" fill="none" stroke="#FF3C3C" stroke-width="1"/><rect x="723" y="285" width="1" height="7" fill="#FF3C3C"/><rect x="728" y="276" width="7" height="13" fill="#54FCFC"/><rect x="731" y="268" width="1" height="29" fill="#54FCFC"/><rect x="736" y="286" width="7" height="16" fill="#54FCFC"/><rect x="739" y="284" width="1" height="24" fill="#54FCFC"/><rect x="744" y="308" width="7" height="10" fill="#54FCFC"/><rect x="747" y="302" width="1" height="19" fill="#54FCFC"/><rect x="752" y="318" width="7" height="11" fill="#54FCFC"/><rect x="755" y="316" width="1" height="29" fill="#54FCFC"/><rect x="760" y="324" width="7" height="18" fill="#54FCFC"/><rect x="763" y="321" width="1" height="21" fill="#54FCFC"/><rect x="768.5" y="332.5" width="6" height="10" fill="none" stroke="#FF3C3C" stroke-width="1"/><rect x="771" y="322" width="1" height="10" fill="#FF3C3C"/><rect x="776.5" y="305.5" width="6" height="24" fill="none" stroke="#FF3C3C" stroke-width="1"/><rect x="779" y="290" width="1" height="15" fill="#FF3C3C"/><rect x="779" y="330" width="1" height="2" fill="#FF3C3C"/><rect x="785.5" y="294.5" width="6" height="8" fill="none" stroke="#FF3C3C" stroke-width="1"/><rect x="788" y="293" width="1" height="1" fill="#FF3C3C"/><rect x="788" y="303" width="1" height="5" fill="#FF3C3C"/><rect x="793.5" y="284.5" width="6" height="16" fill="none" stroke="#FF3C3C" stroke-width="1"/><rect x="796" y="277" width="1" height="7" fill="#FF3C3C"/><rect x="796" y="301" width="1" height="4" fill="#FF3C3C"/><rect x="801" y="281" width="7" height="16" fill="#54FCFC"/><rect x="804" y="278" width="1" height="24" fill="#54FCFC"/><rect x="809.5" y="281.5" width="6" height="19" fill="none" stroke="#FF3C3C" stroke-width="1"/><rect x="812" y="263" width="1" height="18" fill="#FF3C3C"/><rect x="817.5" y="254.5" width="6" height="24" fill="none" stroke="#FF3C3C" stroke-width="1"/><rect x="820" y="252" width="1" height="2" fill="#FF3C3C"/><rect x="820" y="279" width="1" height="10" fill="#FF3C3C"/><rect x="825.5" y="251.5" width="6" height="5" fill="none" stroke="#FF3C3C" stroke-width="1"/><rect x="828" y="257" width="1" height="5" fill="#FF3C3C"/><rect x="833.5" y="243.5" width="6" height="8" fill="none" stroke="#FF3C3C" stroke-width="1"/><rect x="836" y="239" width="1" height="4" fill="#FF3C3C"/><rect x="836" y="252" width="1" height="7" fill="#FF3C3C"/><rect x="841.5" y="233.5" width="6" height="10" fill="none" stroke="#FF3C3C" stroke-width="1"/><rect x="844" y="220" width="1" height="13" fill="#FF3C3C"/><rect x="844" y="244" width="1" height="5" fill="#FF3C3C"/><rect x="849.5" y="214.5" width="6" height="18" fill="none" stroke="#FF3C3C" stroke-width="1"/><rect x="852" y="199" width="1" height="15" fill="#FF3C3C"/><rect x="852" y="233" width="1" height="5" fill="#FF3C3C"/><rect x="857.5" y="211.5" width="6" height="2" fill="none" stroke="#FF3C3C" stroke-width="1"/><rect x="860" y="183" width="1" height="28" fill="#FF3C3C"/><rect x="860" y="214" width="1" height="3" fill="#FF3C3C"/><rect x="865.5" y="203.5" width="6" height="3" fill="none" stroke="#FF3C3C" stroke-width="1"/><rect x="868" y="199" width="1" height="4" fill="#FF3C3C"/><rect x="868" y="207" width="1" height="20" fill="#FF3C3C"/><rect x="873" y="203" width="7" height="30" fill="#54FCFC"/><rect x="876" y="187" width="1" height="51" fill="#54FCFC"/><rect x="882" y="230" width="7" height="8" fill="#54FCFC"/><rect x="885" y="222" width="1" height="24" fill="#54FCFC"/><rect x="890" y="241" width="7" height="21" fill="#54FCFC"/><rect x="893" y="227" width="1" height="43" fill="#54FCFC"/><rect x="898" y="251" width="7" height="19" fill="#54FCFC"/><rect x="901" y="243" width="1" height="35" fill="#54FCFC"/><rect x="906.5" y="254.5" width="6" height="11" fill="none" stroke="#FF3C3C" stroke-width="1"/><rect x="909" y="250" width="1" height="4" fill="#FF3C3C"/><rect x="909" y="266" width="1" height="4" fill="#FF3C3C"/><rect x="914.5" y="190.5" width="6" height="66" fill="none" stroke="#FF3C3C" stroke-width="1"/><rect x="922" y="150" width="7" height="83" fill="#54FCFC"/><rect x="925" y="118" width="1" height="128" fill="#54FCFC"/><rect x="930.5" y="166.5" width="6" height="79" fill="none" stroke="#FF3C3C" stroke-width="1"/><rect x="933" y="246" width="1" height="27" fill="#FF3C3C"/><rect x="938.5" y="174.5" width="6" height="16" fill="none" stroke="#FF3C3C" stroke-width="1"/><rect x="941" y="137" width="1" height="37" fill="#FF3C3C"/><rect x="941" y="191" width="1" height="2" fill="#FF3C3C"/><rect x="946.5" y="147.5" width="6" height="16" fill="none" stroke="#FF3C3C" stroke-width="1"/><rect x="949" y="129" width="1" height="18" fill="#FF3C3C"/><rect x="949" y="164" width="1" height="29" fill="#FF3C3C"/><rect x="954" y="150" width="7" height="21" fill="#54FCFC"/><rect x="957" y="120" width="1" height="54" fill="#54FCFC"/><rect x="962" y="166" width="7" height="21" fill="#54FCFC"/><rect x="965" y="160" width="1" height="35" fill="#54FCFC"/><rect x="970.5" y="174.5" width="6" height="13" fill="none" stroke="#FF3C3C" stroke-width="1"/><rect x="973" y="167" width="1" height="7" fill="#FF3C3C"/><rect x="973" y="188" width="1" height="18" fill="#FF3C3C"/><rect x="979.5" y="102.5" width="6" height="69" fill="none" stroke="#FF3C3C" stroke-width="1"/><rect x="987" y="80" width="7" height="19" fill="#54FCFC"/><rect x="990" y="75" width="1" height="51" fill="#54FCFC"/><rect x="995.5" y="77.5" width="6" height="19" fill="none" stroke="#FF3C3C" stroke-width="1"/><rect x="998" y="62" width="1" height="15" fill="#FF3C3C"/><rect x="998" y="97" width="1" height="13" fill="#FF3C3C"/><rect x="1003" y="80" width="7" height="27" fill="#54FCFC"/><rect x="1006" y="61" width="1" height="54" fill="#54FCFC"/><rect x="1011" y="107" width="7" height="11" fill="#54FCFC"/><rect x="1014" y="94" width="1" height="37" fill="#54FCFC"/><rect x="1019.5" y="80.5" width="6" height="27" fill="none" stroke="#FF3C3C" stroke-width="1"/><rect x="1022" y="41" width="1" height="39" fill="#FF3C3C"/><rect x="1022" y="108" width="1" height="4" fill="#FF3C3C"/><rect x="1027" y="69" width="7" height="14" fill="#54FCFC"/><rect x="1030" y="48" width="1" height="38" fill="#54FCFC"/><rect x="1035" y="80" width="7" height="38" fill="#54FCFC"/><rect x="1038" y="67" width="1" height="67" fill="#54FCFC"/>
</g>
<rect x="0" y="19" width="1130" height="1" fill="#B40000"/><rect x="0" y="0" width="1" height="19" fill="#B40000"/><rect x="23" y="0" width="1" height="19" fill="#B40000"/><rect x="810" y="0" width="1" height="19" fill="#B40000"/><rect x="844" y="0" width="1" height="19" fill="#B40000"/><rect x="879" y="0" width="1" height="19" fill="#B40000"/><rect x="914" y="0" width="1" height="19" fill="#B40000"/><rect x="949" y="0" width="1" height="19" fill="#B40000"/><rect x="984" y="0" width="1" height="19" fill="#B40000"/><rect x="1019" y="0" width="1" height="19" fill="#B40000"/><rect x="1054" y="0" width="1" height="19" fill="#B40000"/><rect x="1089" y="0" width="1" height="19" fill="#B40000"/><rect x="5.8" y="3.7" width="10.8" height="9.8" rx="2.5" fill="none" stroke="#8C8C8C" stroke-width="1.2"/><rect x="12" y="5" width="3" height="7" fill="#8C8C8C"/><text x="27.7" y="13.3" fill="#C8C8C8" font-size="12" font-family='"Liberation Sans","WenQuanYi Zen Hei",sans-serif'>分时</text><text x="61" y="13.3" fill="#C8C8C8" font-size="12" font-family='"Liberation Sans","WenQuanYi Zen Hei",sans-serif'>1分钟</text><text x="100" y="13.3" fill="#C8C8C8" font-size="12" font-family='"Liberation Sans","WenQuanYi Zen Hei",sans-serif'>5分钟</text><text x="139" y="13.3" fill="#C8C8C8" font-size="12" font-family='"Liberation Sans","WenQuanYi Zen Hei",sans-serif'>15分钟</text><text x="185" y="13.3" fill="#C8C8C8" font-size="12" font-family='"Liberation Sans","WenQuanYi Zen Hei",sans-serif'>30分钟</text><text x="231" y="13.3" fill="#C8C8C8" font-size="12" font-family='"Liberation Sans","WenQuanYi Zen Hei",sans-serif'>60分钟</text><text x="278.5" y="13.3" fill="#54FCFC" font-size="12" font-family='"Liberation Sans","WenQuanYi Zen Hei",sans-serif'>日线</text><text x="312.5" y="13.3" fill="#C8C8C8" font-size="12" font-family='"Liberation Sans","WenQuanYi Zen Hei",sans-serif'>周线</text><text x="345.5" y="13.3" fill="#C8C8C8" font-size="12" font-family='"Liberation Sans","WenQuanYi Zen Hei",sans-serif'>月线</text><text x="378" y="13.3" fill="#C8C8C8" font-size="12" font-family='"Liberation Sans","WenQuanYi Zen Hei",sans-serif'>多周期</text><text x="422.5" y="13.3" fill="#C8C8C8" font-size="12" font-family='"Liberation Sans","WenQuanYi Zen Hei",sans-serif'>更多</text><text x="816" y="13.3" fill="#C8C8C8" font-size="12" font-family='"Liberation Sans","WenQuanYi Zen Hei",sans-serif'>复权</text><text x="849.6" y="13.3" fill="#C8C8C8" font-size="12" font-family='"Liberation Sans","WenQuanYi Zen Hei",sans-serif'>叠加</text><text x="884.7" y="13.3" fill="#C8C8C8" font-size="12" font-family='"Liberation Sans","WenQuanYi Zen Hei",sans-serif'>多股</text><text x="919.7" y="13.3" fill="#C8C8C8" font-size="12" font-family='"Liberation Sans","WenQuanYi Zen Hei",sans-serif'>统计</text><text x="954.8" y="13.3" fill="#C8C8C8" font-size="12" font-family='"Liberation Sans","WenQuanYi Zen Hei",sans-serif'>画线</text><text x="992" y="13.3" fill="#C8C8C8" font-size="12" font-family='"Liberation Sans","WenQuanYi Zen Hei",sans-serif'>F10</text><text x="1025" y="13.3" fill="#C8C8C8" font-size="12" font-family='"Liberation Sans","WenQuanYi Zen Hei",sans-serif'>标记</text><text x="1057.6" y="13.3" fill="#C8C8C8" font-size="12" font-family='"Liberation Sans","WenQuanYi Zen Hei",sans-serif'>+自选</text><text x="1095.6" y="13.3" fill="#C8C8C8" font-size="12" font-family='"Liberation Sans","WenQuanYi Zen Hei",sans-serif'>返回</text><polyline points="451.5,5 455.5,9 451.5,13" fill="none" stroke="#C8C8C8" stroke-width="1"/><text x="3" y="33" fill="#C8C8C8" font-size="12" font-family='"WenQuanYi Zen Hei","Liberation Sans",sans-serif'>美克家居(日线.前复权)</text><circle cx="134" cy="29" r="6" fill="#7C7C7C"/><polyline points="130.5,27.5 134,31 137.5,27.5" fill="none" stroke="#202020" stroke-width="1.2"/><polygon points="1047.5,24.5 1052.5,29.5 1047.5,34.5 1042.5,29.5" fill="none" stroke="#8C8C8C" stroke-width="1"/><rect x="1060.5" y="24.5" width="11" height="10" rx="2" fill="none" stroke="#8C8C8C" stroke-width="1.2"/><rect x="1067" y="26" width="3" height="7" fill="#8C8C8C"/><rect x="1075" y="20" width="1" height="376" fill="#B40000"/><rect x="1075" y="396" width="2" height="234" fill="#B40000"/><rect x="1126" y="20" width="1" height="376" fill="#B40000"/><rect x="1125" y="396" width="2" height="234" fill="#B40000"/><rect x="0" y="396" width="1130" height="1" fill="#B40000"/><rect x="1075" y="397" width="55" height="1" fill="#B40000"/><text x="1120.2" y="48.1" fill="#F03C3C" font-size="12" font-family='"Liberation Sans","WenQuanYi Zen Hei",sans-serif' text-anchor="end">3.20</text><rect x="1076" y="43" width="5" height="1" fill="#B40000"/><text x="1120.2" y="74.8" fill="#F03C3C" font-size="12" font-family='"Liberation Sans","WenQuanYi Zen Hei",sans-serif' text-anchor="end">3.10</text><rect x="1076" y="70" width="3" height="1" fill="#B40000"/><text x="1120.2" y="101.4" fill="#F03C3C" font-size="12" font-family='"Liberation Sans","WenQuanYi Zen Hei",sans-serif' text-anchor="end">3.00</text><rect x="1076" y="96" width="5" height="1" fill="#B40000"/><text x="1120.2" y="128.1" fill="#F03C3C" font-size="12" font-family='"Liberation Sans","WenQuanYi Zen Hei",sans-serif' text-anchor="end">2.90</text><rect x="1076" y="123" width="3" height="1" fill="#B40000"/><text x="1120.2" y="154.8" fill="#F03C3C" font-size="12" font-family='"Liberation Sans","WenQuanYi Zen Hei",sans-serif' text-anchor="end">2.80</text><rect x="1076" y="150" width="5" height="1" fill="#B40000"/><text x="1120.2" y="181.5" fill="#F03C3C" font-size="12" font-family='"Liberation Sans","WenQuanYi Zen Hei",sans-serif' text-anchor="end">2.70</text><rect x="1076" y="176" width="3" height="1" fill="#B40000"/><text x="1120.2" y="208.1" fill="#F03C3C" font-size="12" font-family='"Liberation Sans","WenQuanYi Zen Hei",sans-serif' text-anchor="end">2.60</text><rect x="1076" y="203" width="5" height="1" fill="#B40000"/><text x="1120.2" y="234.8" fill="#F03C3C" font-size="12" font-family='"Liberation Sans","WenQuanYi Zen Hei",sans-serif' text-anchor="end">2.50</text><rect x="1076" y="230" width="3" height="1" fill="#B40000"/><text x="1120.2" y="261.5" fill="#F03C3C" font-size="12" font-family='"Liberation Sans","WenQuanYi Zen Hei",sans-serif' text-anchor="end">2.40</text><rect x="1076" y="256" width="5" height="1" fill="#B40000"/><text x="1120.2" y="288.1" fill="#F03C3C" font-size="12" font-family='"Liberation Sans","WenQuanYi Zen Hei",sans-serif' text-anchor="end">2.30</text><rect x="1076" y="283" width="3" height="1" fill="#B40000"/><text x="1120.2" y="314.8" fill="#F03C3C" font-size="12" font-family='"Liberation Sans","WenQuanYi Zen Hei",sans-serif' text-anchor="end">2.20</text><rect x="1076" y="310" width="5" height="1" fill="#B40000"/><text x="1120.2" y="341.5" fill="#F03C3C" font-size="12" font-family='"Liberation Sans","WenQuanYi Zen Hei",sans-serif' text-anchor="end">2.10</text><rect x="1076" y="336" width="3" height="1" fill="#B40000"/><text x="1120.2" y="368.1" fill="#F03C3C" font-size="12" font-family='"Liberation Sans","WenQuanYi Zen Hei",sans-serif' text-anchor="end">2.00</text><rect x="1076" y="363" width="5" height="1" fill="#B40000"/><rect x="1127" y="25" width="3" height="1" fill="#B40000"/><rect x="1127" y="45" width="3" height="1" fill="#B40000"/><rect x="1127" y="142" width="3" height="1" fill="#B40000"/><rect x="1127" y="239" width="3" height="1" fill="#B40000"/><rect x="1127" y="336" width="3" height="1" fill="#B40000"/><rect x="1127" y="418" width="3" height="1" fill="#B40000"/><rect x="1127" y="437" width="3" height="1" fill="#B40000"/><rect x="1128" y="31" width="2" height="1" fill="#B0B0B0"/><rect x="1128" y="35" width="2" height="1" fill="#B0B0B0"/><rect x="1128" y="37" width="2" height="1" fill="#B0B0B0"/><rect x="1128" y="59" width="2" height="1" fill="#B0B0B0"/><rect x="1128" y="78" width="2" height="1" fill="#B0B0B0"/><rect x="1128" y="97" width="2" height="1" fill="#B0B0B0"/><rect x="1128" y="116" width="2" height="1" fill="#B0B0B0"/><rect x="1128" y="135" width="2" height="1" fill="#B0B0B0"/><rect x="1128" y="154" width="2" height="1" fill="#B0B0B0"/><rect x="1128" y="160" width="2" height="1" fill="#B0B0B0"/><rect x="1128" y="173" width="2" height="1" fill="#B0B0B0"/><rect x="1128" y="178" width="2" height="1" fill="#B0B0B0"/><rect x="1128" y="192" width="2" height="1" fill="#B0B0B0"/><rect x="1128" y="198" width="2" height="1" fill="#B0B0B0"/><rect x="1128" y="211" width="2" height="1" fill="#B0B0B0"/><rect x="1128" y="220" width="2" height="1" fill="#B0B0B0"/><rect x="1128" y="229" width="2" height="1" fill="#B0B0B0"/><rect x="1128" y="247" width="2" height="1" fill="#B0B0B0"/><rect x="1128" y="255" width="2" height="1" fill="#B0B0B0"/><rect x="1128" y="264" width="2" height="1" fill="#B0B0B0"/><rect x="1128" y="272" width="2" height="1" fill="#B0B0B0"/><rect x="1128" y="282" width="2" height="1" fill="#B0B0B0"/><rect x="1128" y="290" width="2" height="1" fill="#B0B0B0"/><rect x="1128" y="299" width="2" height="1" fill="#B0B0B0"/><rect x="1128" y="307" width="2" height="1" fill="#B0B0B0"/><rect x="1128" y="313" width="2" height="1" fill="#B0B0B0"/><rect x="1128" y="326" width="2" height="1" fill="#B0B0B0"/><rect x="1128" y="333" width="2" height="1" fill="#B0B0B0"/><rect x="1128" y="343" width="2" height="1" fill="#B0B0B0"/><rect x="1128" y="348" width="2" height="1" fill="#B0B0B0"/><rect x="1128" y="367" width="2" height="1" fill="#B0B0B0"/><rect x="1128" y="423" width="2" height="1" fill="#B0B0B0"/><rect x="1128" y="427" width="2" height="1" fill="#B0B0B0"/><rect x="1128" y="434" width="2" height="1" fill="#B0B0B0"/><text x="1120.2" y="474.1" fill="#F03C3C" font-size="12" font-family='"Liberation Sans","WenQuanYi Zen Hei",sans-serif' text-anchor="end">80.00</text><rect x="1076" y="469" width="5" height="1" fill="#B40000"/><text x="1120.2" y="511.1" fill="#F03C3C" font-size="12" font-family='"Liberation Sans","WenQuanYi Zen Hei",sans-serif' text-anchor="end">60.00</text><rect x="1076" y="506" width="5" height="1" fill="#B40000"/><text x="1120.2" y="548.1" fill="#F03C3C" font-size="12" font-family='"Liberation Sans","WenQuanYi Zen Hei",sans-serif' text-anchor="end">40.00</text><rect x="1076" y="543" width="5" height="1" fill="#B40000"/><text x="1120.2" y="585.1" fill="#F03C3C" font-size="12" font-family='"Liberation Sans","WenQuanYi Zen Hei",sans-serif' text-anchor="end">20.00</text><rect x="1076" y="580" width="5" height="1" fill="#B40000"/><rect x="1076" y="451" width="3" height="1" fill="#B40000"/><rect x="1076" y="488" width="3" height="1" fill="#B40000"/><rect x="1076" y="525" width="3" height="1" fill="#B40000"/><rect x="1076" y="562" width="3" height="1" fill="#B40000"/><text x="1120.2" y="437" fill="#F03C3C" font-size="12" font-family='"Liberation Sans","WenQuanYi Zen Hei",sans-serif' text-anchor="end">100.0</text><rect x="1076.5" y="430.5" width="48" height="16" fill="#000080" stroke="#B40000" stroke-width="1"/><text x="1076.6" y="442.3" fill="#E8E8E8" font-size="12" font-family='"Liberation Sans","WenQuanYi Zen Hei",sans-serif'>92.34</text><text x="1023" y="432.3" fill="#C8C8C8" font-size="12" font-family='"Liberation Sans","WenQuanYi Zen Hei",sans-serif'>100</text><text x="1023.5" y="539.3" fill="#C8C8C8" font-size="12" font-family='"Liberation Sans","WenQuanYi Zen Hei",sans-serif'>50</text><circle cx="8" cy="405" r="6" fill="#7C7C7C"/><polyline points="4.5,403.5 8,407 11.5,403.5" fill="none" stroke="#202020" stroke-width="1.2"/><text x="18" y="408.8" fill="#C8C8C8" font-size="12" font-family='"Liberation Sans","WenQuanYi Zen Hei",sans-serif'>股朋指标网</text><text x="83" y="408.8" fill="#C8C8C8" font-size="12" font-family='"Liberation Sans","WenQuanYi Zen Hei",sans-serif'>:</text><text x="90" y="408.8" fill="#C8C8C8" font-size="12" font-family='"Liberation Sans","WenQuanYi Zen Hei",sans-serif'>0.00</text><text x="118.5" y="408.8" fill="#C8C8C8" font-size="12" font-family='"Liberation Sans","WenQuanYi Zen Hei",sans-serif'>:</text><text x="124.6" y="408.8" fill="#C8C8C8" font-size="12" font-family='"Liberation Sans","WenQuanYi Zen Hei",sans-serif'>50.00</text><text x="160" y="408.8" fill="#C8C8C8" font-size="12" font-family='"Liberation Sans","WenQuanYi Zen Hei",sans-serif'>:</text><text x="166.5" y="408.8" fill="#C8C8C8" font-size="12" font-family='"Liberation Sans","WenQuanYi Zen Hei",sans-serif'>100.00</text><text x="209.9" y="408.8" fill="#FFFFFF" font-size="12" font-family='"Liberation Sans","WenQuanYi Zen Hei",sans-serif'>PROFIT_LINE: 42.22</text><text x="328.3" y="408.8" fill="#FF0000" font-size="12" font-family='"Liberation Sans","WenQuanYi Zen Hei",sans-serif'>MAIN_P_LINE: 23.46</text><text x="448" y="408.8" fill="#0000FF" font-size="12" font-family='"Liberation Sans","WenQuanYi Zen Hei",sans-serif'>RET_P_LINE: 21.11</text><text x="561.6" y="408.8" fill="#00FF00" font-size="12" font-family='"Liberation Sans","WenQuanYi Zen Hei",sans-serif'>XG: 0.00</text><text x="613.6" y="408.8" fill="#C0C0C0" font-size="12" font-family='"Liberation Sans","WenQuanYi Zen Hei",sans-serif'>BUYP: 0.00</text><text x="12.5" y="439.0" fill="#FF0000" font-size="12" font-family='"Liberation Sans","WenQuanYi Zen Hei",sans-serif'>主力:55.6</text><text x="12.5" y="449.6" fill="#FF0000" font-size="12" font-family='"Liberation Sans","WenQuanYi Zen Hei",sans-serif'>主利:23.5</text><text x="12.5" y="460.2" fill="#FF8080" font-size="12" font-family='"Liberation Sans","WenQuanYi Zen Hei",sans-serif'>主亏:32.1</text><text x="12.5" y="470.8" fill="#0000FF" font-size="12" font-family='"Liberation Sans","WenQuanYi Zen Hei",sans-serif'>散户:50.0</text><text x="12.5" y="481.4" fill="#0000FF" font-size="12" font-family='"Liberation Sans","WenQuanYi Zen Hei",sans-serif'>散利:21.1</text><text x="12.5" y="492.0" fill="#00B0B0" font-size="12" font-family='"Liberation Sans","WenQuanYi Zen Hei",sans-serif'>散亏:28.9</text><text x="12.5" y="502.6" fill="#FFFFFF" font-size="12" font-family='"Liberation Sans","WenQuanYi Zen Hei",sans-serif'>总利:42.2</text><text x="12.5" y="513.2" fill="#FFFF00" font-size="12" font-family='"Liberation Sans","WenQuanYi Zen Hei",sans-serif'>介入:否</text><rect x="559" y="607" width="5" height="11" fill="#FFFFFF"/><ellipse cx="562" cy="624" rx="7" ry="6.2" fill="#FFFFFF"/><rect x="557" y="623" width="2" height="2" fill="#FF0000"/><rect x="564" y="623" width="3" height="2" fill="#FF0000"/><rect x="561" y="626" width="2" height="2" fill="#FF0000"/><rect x="572" y="616" width="4" height="1" fill="#00C000"/><text x="562.3" y="619.5" fill="#FFFF00" font-size="9.5" font-family='"Liberation Sans","WenQuanYi Zen Hei",sans-serif'>★</text><text x="571.5" y="619.8" fill="#FFFF00" font-size="11.5" font-family='"Liberation Sans","WenQuanYi Zen Hei",sans-serif'>介入</text><text x="595.8" y="619.3" fill="#FFFF00" font-size="10" font-family='"Liberation Sans","WenQuanYi Zen Hei",sans-serif'>★</text><rect x="0" y="630" width="1075" height="1" fill="#B40000"/><rect x="0" y="646" width="1130" height="1" fill="#B40000"/><rect x="108" y="630" width="1" height="16" fill="#B40000"/><rect x="294" y="630" width="1" height="16" fill="#B40000"/><rect x="463" y="630" width="1" height="16" fill="#B40000"/><rect x="778" y="630" width="1" height="16" fill="#B40000"/><rect x="940" y="630" width="1" height="16" fill="#B40000"/><rect x="155" y="631" width="1" height="3" fill="#B40000"/><rect x="201" y="631" width="1" height="3" fill="#B40000"/><rect x="248" y="631" width="1" height="3" fill="#B40000"/><rect x="340" y="631" width="1" height="3" fill="#B40000"/><rect x="386" y="631" width="1" height="3" fill="#B40000"/><rect x="432" y="631" width="1" height="3" fill="#B40000"/><rect x="508" y="631" width="1" height="3" fill="#B40000"/><rect x="552" y="631" width="1" height="3" fill="#B40000"/><rect x="597" y="631" width="1" height="3" fill="#B40000"/><rect x="710" y="631" width="1" height="3" fill="#B40000"/><rect x="744" y="631" width="1" height="3" fill="#B40000"/><rect x="819" y="631" width="1" height="3" fill="#B40000"/><rect x="859" y="631" width="1" height="3" fill="#B40000"/><rect x="900" y="631" width="1" height="3" fill="#B40000"/><rect x="985" y="631" width="1" height="3" fill="#B40000"/><rect x="1030" y="631" width="1" height="3" fill="#B40000"/><text x="4" y="642.3" fill="#F03C3C" font-size="12" font-family='"Liberation Sans","WenQuanYi Zen Hei",sans-serif'>2025年</text><text x="108.8" y="642.3" fill="#F03C3C" font-size="12" font-family='"Liberation Sans","WenQuanYi Zen Hei",sans-serif'>7</text><text x="295.3" y="642.3" fill="#F03C3C" font-size="12" font-family='"Liberation Sans","WenQuanYi Zen Hei",sans-serif'>8</text><text x="464.5" y="642.3" fill="#F03C3C" font-size="12" font-family='"Liberation Sans","WenQuanYi Zen Hei",sans-serif'>9</text><text x="780" y="642.3" fill="#F03C3C" font-size="12" font-family='"Liberation Sans","WenQuanYi Zen Hei",sans-serif'>11</text><text x="942" y="642.3" fill="#F03C3C" font-size="12" font-family='"Liberation Sans","WenQuanYi Zen Hei",sans-serif'>12</text><rect x="620" y="631" width="78" height="15" fill="#000080"/><text x="621" y="642.3" fill="#E8E8E8" font-size="12" font-family='"Liberation Sans","WenQuanYi Zen Hei",sans-serif'>2025/09/26/五</text><rect x="0" y="647" width="1" height="3" fill="#B40000"/><rect x="42" y="647" width="1" height="3" fill="#B40000"/><rect x="73" y="647" width="1" height="3" fill="#B40000"/><rect x="115" y="647" width="1" height="3" fill="#B40000"/><rect x="144" y="647" width="1" height="3" fill="#B40000"/><rect x="178" y="647" width="1" height="3" fill="#B40000"/><rect x="208" y="647" width="1" height="3" fill="#B40000"/><rect x="242" y="647" width="1" height="3" fill="#B40000"/><rect x="271" y="647" width="1" height="3" fill="#B40000"/><rect x="306" y="647" width="1" height="3" fill="#B40000"/><rect x="332" y="647" width="1" height="3" fill="#B40000"/><rect x="364" y="647" width="1" height="3" fill="#B40000"/><rect x="390" y="647" width="1" height="3" fill="#B40000"/><rect x="422" y="647" width="1" height="3" fill="#B40000"/><rect x="480" y="647" width="1" height="3" fill="#B40000"/><rect x="536" y="647" width="1" height="3" fill="#B40000"/><rect x="568" y="647" width="1" height="3" fill="#B40000"/><rect x="599" y="647" width="1" height="3" fill="#B40000"/><rect x="628" y="647" width="1" height="3" fill="#B40000"/><rect x="663" y="647" width="1" height="3" fill="#B40000"/><rect x="696" y="647" width="1" height="3" fill="#B40000"/><rect x="735" y="647" width="1" height="3" fill="#B40000"/><rect x="766" y="647" width="1" height="3" fill="#B40000"/><rect x="807" y="647" width="1" height="3" fill="#B40000"/><rect x="839" y="647" width="1" height="3" fill="#B40000"/><rect x="871" y="647" width="1" height="3" fill="#B40000"/><rect x="1043" y="118" width="6" height="1" fill="#FFFFFF"/><rect x="8" y="649" width="1" height="1" fill="#B0B0B0"/><rect x="11" y="649" width="1" height="1" fill="#B0B0B0"/><rect x="16" y="649" width="1" height="1" fill="#B0B0B0"/><rect x="20" y="649" width="1" height="1" fill="#B0B0B0"/><rect x="51" y="649" width="1" height="1" fill="#B0B0B0"/><rect x="828" y="649" width="1" height="1" fill="#B0B0B0"/><rect x="845" y="649" width="1" height="1" fill="#54FCFC"/><rect x="849" y="649" width="4" height="1" fill="#54FCFC"/><rect x="857" y="649" width="9" height="1" fill="#54FCFC"/><rect x="978" y="600" width="152" height="50" fill="#000000"/><rect x="1075" y="595" width="1" height="5" fill="#B40000"/><rect x="1126" y="595" width="1" height="5" fill="#B40000"/><text x="998.5" y="627" fill="#FFFFFF" font-size="21" font-family='"Noto Sans CJK SC","WenQuanYi Zen Hei",sans-serif' font-weight="bold">乐淘公式网</text><text x="1001.3" y="643.5" fill="#FFFFFF" font-size="15" font-family='"Liberation Serif",serif' font-weight="bold">www.60lt.com</text>
</svg>
</body></html>
